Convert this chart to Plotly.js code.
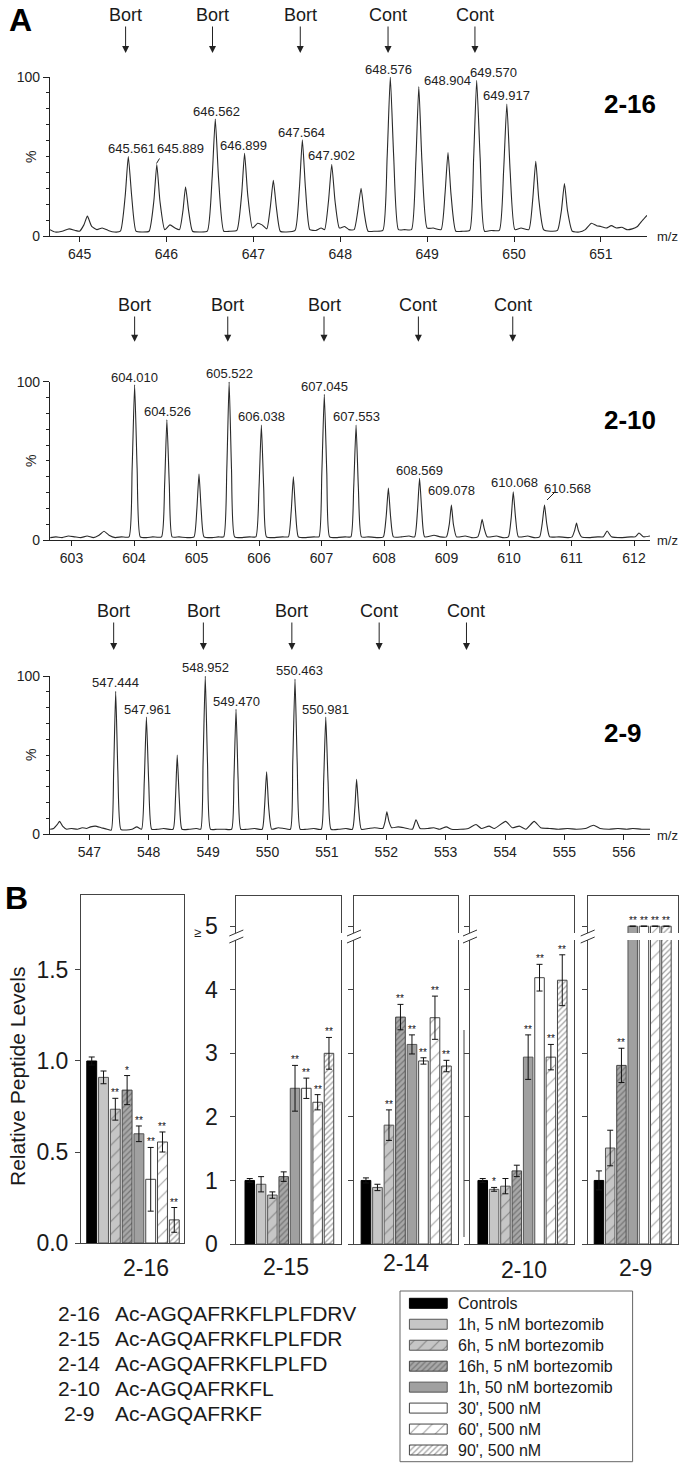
<!DOCTYPE html>
<html><head><meta charset="utf-8">
<script src="https://cdn.plot.ly/plotly-3.0.1.min.js"></script>
<style>html,body{margin:0;padding:0;background:#fff}#chart{width:685px;height:1468px}</style>
</head><body><div id="chart"></div>
<script>
// ================= DATA =================
// Panel A: mass spectra profiles [m/z, relative intensity %]
const s1Profile=[[644.66,4],[644.72,2.5],[644.80,3],[644.88,4.5],[644.95,3.5],[645.00,3],[645.05,7],[645.09,12.5],[645.14,6],[645.20,4],[645.26,5],[645.33,3.5],[645.40,2.5],[645.47,3],[645.525,25],[645.561,50],[645.60,25],[645.65,3],[645.72,2.5],[645.80,3],[645.855,22],[645.889,45],[645.925,22],[645.98,4],[646.04,7],[646.10,5],[646.15,4],[646.19,16],[646.22,31],[646.255,16],[646.30,3],[646.38,2.5],[646.47,3],[646.525,36],[646.562,73.5],[646.60,36],[646.66,3],[646.73,3],[646.81,3.5],[646.865,26],[646.899,52],[646.935,26],[646.99,5],[647.05,8],[647.10,7],[647.155,4.5],[647.195,18],[647.23,35],[647.265,18],[647.31,3],[647.38,2.5],[647.48,3.5],[647.53,30],[647.564,60.5],[647.60,30],[647.65,4],[647.72,3.5],[647.78,5],[647.82,4],[647.865,22],[647.902,45],[647.94,22],[647.99,5],[648.05,6],[648.10,4],[648.16,4],[648.20,15],[648.24,30],[648.275,15],[648.32,3],[648.40,3],[648.49,3.5],[648.54,50],[648.576,100],[648.615,50],[648.67,4],[648.74,4],[648.82,4],[648.87,47],[648.904,94],[648.94,47],[649.00,5],[649.07,5],[649.16,4],[649.205,26],[649.24,52.5],[649.275,26],[649.33,3],[649.41,3],[649.49,3.5],[649.535,49],[649.57,98],[649.61,49],[649.66,3],[649.74,3.5],[649.83,3.5],[649.88,41],[649.917,83],[649.955,41],[650.01,4],[650.08,5],[650.17,4],[650.215,23],[650.25,47],[650.285,23],[650.34,4],[650.42,3],[650.50,3.5],[650.545,16],[650.58,33],[650.615,16],[650.67,3],[650.75,2.5],[650.82,4],[650.89,8],[650.95,6.5],[651.00,6],[651.06,5],[651.12,6.5],[651.18,5],[651.24,5.5],[651.30,4],[651.36,4.5],[651.42,6],[651.48,10],[651.53,13]];
const s2Profile=[[602.66,1.5],[602.75,2],[602.85,1.5],[602.95,2.5],[603.05,2],[603.15,1.5],[603.25,2.5],[603.35,1.5],[603.44,3],[603.52,5.5],[603.6,3],[603.7,1.5],[603.8,2],[603.92,2],[603.97,45],[604.01,98],[604.05,45],[604.1,2],[604.2,1.5],[604.3,2],[604.44,2],[604.49,35],[604.526,76],[604.565,35],[604.61,2],[604.72,2],[604.85,1.5],[604.96,2],[605.005,19],[605.04,41.7],[605.075,19],[605.12,2],[605.25,1.5],[605.35,2],[605.435,2],[605.485,45],[605.522,100],[605.56,45],[605.61,2],[605.73,1.5],[605.85,2],[605.95,2],[606.0,33],[606.038,72.6],[606.075,33],[606.12,2],[606.25,1.5],[606.38,2],[606.47,2],[606.515,18],[606.55,40],[606.585,18],[606.63,2],[606.75,1.5],[606.88,2],[606.96,2],[607.005,42],[607.045,92],[607.085,42],[607.13,2],[607.25,1.5],[607.38,2],[607.47,2],[607.515,33],[607.553,72.6],[607.59,33],[607.64,2],[607.75,2],[607.9,1.5],[607.99,2],[608.035,15],[608.07,32.8],[608.105,15],[608.15,2],[608.28,2],[608.4,2.5],[608.49,2],[608.535,18],[608.569,39],[608.605,18],[608.65,2],[608.8,3],[608.9,2],[609.0,2],[609.045,10],[609.078,22],[609.11,10],[609.16,2],[609.3,2.5],[609.4,1.5],[609.5,2],[609.54,7],[609.57,13],[609.605,7],[609.65,2],[609.8,2.5],[609.9,1.5],[609.99,2],[610.035,14],[610.068,30.5],[610.105,14],[610.15,2],[610.3,2.5],[610.4,1.5],[610.49,2],[610.53,10],[610.568,22],[610.605,10],[610.65,2],[610.8,2],[610.95,1.5],[611.01,2],[611.05,6],[611.08,10.7],[611.11,6],[611.16,2],[611.3,1.5],[611.42,2],[611.51,2],[611.57,5.7],[611.64,2],[611.8,1.5],[611.95,2],[612.02,2],[612.08,4.4],[612.15,2],[612.256,2.5]];
const s3Profile=[[546.34,3],[546.4,3.5],[546.46,6],[546.5,8],[546.55,5],[546.62,3],[546.7,3.5],[546.8,3],[546.88,4],[546.95,3.5],[547.02,4.5],[547.1,5],[547.2,4],[547.3,3],[547.37,2.5],[547.41,40],[547.444,90.3],[547.48,40],[547.53,3],[547.62,2.5],[547.72,3],[547.8,4.5],[547.88,3],[547.925,33],[547.961,74],[548.0,33],[548.05,3],[548.15,3],[548.25,3.5],[548.41,3],[548.45,22],[548.48,50],[548.515,22],[548.56,3],[548.68,3],[548.8,3.5],[548.875,3],[548.915,45],[548.952,100],[548.99,45],[549.04,3],[549.15,3],[549.28,3],[549.395,3],[549.435,35],[549.47,79],[549.505,35],[549.55,3],[549.65,3],[549.78,3.5],[549.91,3],[549.95,17],[549.985,39.4],[550.02,17],[550.07,3],[550.18,4],[550.28,3.5],[550.385,3],[550.425,45],[550.463,98],[550.5,45],[550.55,3],[550.65,3],[550.78,3.5],[550.905,3],[550.945,33],[550.981,74],[551.02,33],[551.07,3],[551.2,3],[551.32,3.5],[551.43,3],[551.47,16],[551.5,34.6],[551.535,16],[551.58,3],[551.7,3.5],[551.8,4],[551.94,3.5],[551.98,8],[552.01,14],[552.045,8],[552.09,4],[552.2,4.5],[552.3,4],[552.44,3],[552.5,9],[552.57,3.5],[552.7,3.5],[552.8,4],[552.9,3],[553.01,4.5],[553.1,3],[553.25,3],[553.38,3.5],[553.51,6],[553.6,3.5],[553.73,5],[553.82,3.5],[554.01,8],[554.12,4],[554.24,5],[554.35,3],[554.49,8],[554.6,4],[554.75,3.5],[554.9,3],[555.05,3.5],[555.2,3],[555.35,3.5],[555.49,5.5],[555.6,3.5],[555.75,3],[555.9,3.5],[556.05,3],[556.15,3.5],[556.3,3],[556.44,3]];

const spectrumNames=['2-16','2-10','2-9'];
const s1PeakLabels=['645.561','645.889','646.562','646.899','647.564','647.902','648.576','648.904','649.570','649.917'];
const s2PeakLabels=['604.010','604.526','605.522','606.038','607.045','607.553','608.569','609.078','610.068','610.568'];
const s3PeakLabels=['547.444','547.961','548.952','549.470','550.463','550.981'];
const arrowLabels=['Bort','Bort','Bort','Cont','Cont'];
const s1ArrowMz=[645.53,646.53,647.54,648.55,649.55];
const s2ArrowMz=[604.01,605.50,607.04,608.55,610.06];
const s3ArrowMz=[547.41,548.92,550.41,551.88,553.35];

// Panel B: relative peptide levels
const treatments=['Controls','1h, 5 nM bortezomib','6h, 5 nM bortezomib','16h, 5 nM bortezomib','1h, 50 nM bortezomib',"30', 500 nM","60', 500 nM","90', 500 nM"];
const panels=['2-16','2-15','2-14','2-10','2-9'];
const lv216=[1.00,0.91,0.735,0.84,0.60,0.35,0.555,0.127];
const er216=[0.022,0.035,0.06,0.08,0.043,0.175,0.055,0.068];
const st216=['','','**','*','**','**','**','**'];
const lv215=[1.00,0.94,0.77,1.06,2.45,2.45,2.23,3.00];
const er215=[0.03,0.12,0.05,0.075,0.36,0.16,0.12,0.25];
const st215=['','','','','**','**','**','**'];
const lv214=[1.00,0.89,1.87,3.57,3.14,2.88,3.56,2.80];
const er214=[0.04,0.05,0.24,0.20,0.15,0.05,0.34,0.09];
const st214=['','','**','**','**','**','**','**'];
const lv210=[1.00,0.86,0.91,1.15,2.94,4.19,2.94,4.15];
const er210=[0.03,0.03,0.12,0.09,0.35,0.21,0.20,0.40];
const st210=['','*','','','**','**','**','**'];
const lv29=[1.00,null,1.51,2.81,5,5,5,5];   // 5 = "≥5"
const er29=[0.15,null,0.28,0.27,0,0,0,0];
const st29=['','','','**','**','**','**','**'];

const peptideIds=['2-16','2-15','2-14','2-10','2-9'];
const peptideSeqs=['Ac-AGQAFRKFLPLFDRV','Ac-AGQAFRKFLPLFDR','Ac-AGQAFRKFLPLFD','Ac-AGQAFRKFL','Ac-AGQAFRKF'];

// ================= STYLE / LAYOUT =================
const W=685,H=1468;
const px=x=>x/W, py=y=>1-y/H;
const FONT='Liberation Sans, Arial, Helvetica, sans-serif';
const INK='#1a1a1a';

const barStyles=[
 {c:'#000000',l:'#000000',s:'',sz:8,so:0.2},
 {c:'#c6c6c6',l:'#555555',s:'',sz:8,so:0.2},
 {c:'#c6c6c6',l:'#555555',s:'/',sz:9,so:0.12},
 {c:'#a8a8a8',l:'#444444',s:'/',sz:4,so:0.32},
 {c:'#a0a0a0',l:'#555555',s:'',sz:8,so:0.2},
 {c:'#ffffff',l:'#444444',s:'',sz:8,so:0.2},
 {c:'#ffffff',l:'#444444',s:'/',sz:9,so:0.12},
 {c:'#ffffff',l:'#444444',s:'/',sz:4,so:0.32}
];
function markerFor(idx){
 const st=idx.map(i=>barStyles[i]);
 return {color:st.map(s=>s.c),line:{color:st.map(s=>s.l),width:1},
   pattern:{shape:st.map(s=>s.s),size:st.map(s=>s.sz),solidity:st.map(s=>s.so),fgcolor:'#2a2a2a',bgcolor:st.map(s=>s.c),fillmode:'overlay'}};
}

const data=[];
const annotations=[];
const shapes=[];
function ann(o){ annotations.push(Object.assign({showarrow:false,xanchor:'center',yanchor:'middle'},o)); }

// ---- spectra ----
const specDefs=[
 {p:s1Profile,xa:'x',ya:'y',labels:s1PeakLabels,pos:[[131.5,149],[180.5,148],[216,111.7],[243.5,145.7],[301.3,132.7],[331.7,155.7],[388.8,69],[447.2,81],[493.5,72.3],[506.8,96]],arrows:s1ArrowMz,head:53,text:15,zero:236,name:[602,104]},
 {p:s2Profile,xa:'x2',ya:'y2',labels:s2PeakLabels,pos:[[134.6,377.3],[167.8,411.7],[229.1,373.3],[261.4,416.7],[324.3,386.7],[356.5,416.7],[419.6,470.7],[451.8,490.7],[514,482.3],[567,488.3]],arrows:s2ArrowMz,head:341.7,text:305,zero:540,name:[602,420]},
 {p:s3Profile,xa:'x3',ya:'y3',labels:s3PeakLabels,pos:[[115.3,682.7],[147,709.3],[205.3,667.5],[236,701],[299.5,670],[325.9,709.3]],arrows:s3ArrowMz,head:650,text:611,zero:834,name:[602,733]}
];
specDefs.forEach((d,k)=>{
 data.push({type:'scatter',mode:'lines',x:d.p.map(v=>v[0]),y:d.p.map(v=>v[1]),xaxis:d.xa,yaxis:d.ya,
   line:{color:'#2a2a2a',width:1.1,shape:'spline',smoothing:0.5},hoverinfo:'skip',showlegend:false});
 d.labels.forEach((t,i)=>ann({xref:'paper',yref:'paper',x:px(d.pos[i][0]),y:py(d.pos[i][1]),text:t,font:{size:13,color:'#222'}}));
 d.arrows.forEach((m,i)=>annotations.push({xref:d.xa,yref:'paper',x:m,y:py(d.head),text:arrowLabels[i],showarrow:true,
   arrowhead:2,arrowsize:1.4,arrowwidth:1,arrowcolor:'#222',ax:0,ay:d.text-d.head,standoff:0,font:{size:18,color:INK}}));
 ann({xref:'paper',yref:'paper',x:px(d.name[0]),y:py(d.name[1]),text:'<b>'+spectrumNames[k]+'</b>',xanchor:'left',font:{size:26,color:'#000'}});
 ann({xref:'paper',yref:'paper',x:px(31),y:py(d.zero-79),text:'%',textangle:-90,font:{size:14,color:'#222'}});
 ann({xref:'paper',yref:'paper',x:px(667),y:py(d.zero+1),text:'m/z',font:{size:13,color:'#222'}});
});
// leader lines
shapes.push({type:'line',xref:'paper',yref:'paper',x0:px(156.5),y0:py(163.5),x1:px(159.5),y1:py(158.5),line:{color:'#222',width:1}});
shapes.push({type:'line',xref:'paper',yref:'paper',x0:px(547),y0:py(500),x1:px(554),y1:py(493),line:{color:'#222',width:1}});

// ---- panel B bars ----
const panelDefs=[
 {lv:lv216,er:er216,st:st216,xa:'x4',ya:'y4'},
 {lv:lv215,er:er215,st:st215,xa:'x5',ya:'y5'},
 {lv:lv214,er:er214,st:st214,xa:'x6',ya:'y6'},
 {lv:lv210,er:er210,st:st210,xa:'x7',ya:'y7'},
 {lv:lv29,er:er29,st:st29,xa:'x8',ya:'y8'}
];
panelDefs.forEach(d=>{
 const idx=d.lv.map((v,i)=>v===null?-1:i).filter(i=>i>=0);
 const xs=idx.map((_,j)=>j);
 data.push({type:'bar',x:xs,y:idx.map(i=>d.lv[i]),xaxis:d.xa,yaxis:d.ya,width:0.84,marker:markerFor(idx),
   error_y:{type:'data',array:idx.map(i=>d.er[i]),visible:true,color:'#111',thickness:1,width:3},
   hoverinfo:'skip',showlegend:false});
 idx.forEach((i,j)=>{ if(d.st[i]) annotations.push({xref:d.xa,yref:d.ya,x:j,y:d.lv[i]+d.er[i],text:d.st[i],showarrow:false,
   xanchor:'center',yanchor:'bottom',yshift:-2,font:{size:10,color:'#111'}}); });
});

// legend as a small bar subplot
data.push({type:'bar',orientation:'h',x:treatments.map(()=>1),y:treatments.map((_,i)=>i),base:0,width:0.477,
  xaxis:'x9',yaxis:'y9',marker:markerFor(treatments.map((_,i)=>i)),hoverinfo:'skip',showlegend:false});
treatments.forEach((t,i)=>ann({xref:'x9',yref:'y9',x:1.22,y:i,text:t,xanchor:'left',font:{size:16,color:INK}}));
shapes.push({type:'rect',xref:'paper',yref:'paper',x0:px(400),x1:px(632.6),y0:py(1291),y1:py(1461.7),line:{color:'#666',width:1},fillcolor:'rgba(0,0,0,0)'});

// axis-break bands and marks (boxes 2-5)
const boxes=[[236.3,341.3],[354,458.3],[470,574.3],[587.7,677.7]];
boxes.forEach(b=>{
 shapes.push({type:'rect',xref:'paper',yref:'paper',layer:'above',x0:px(b[0]-2),x1:px(b[1]+2),y0:py(940),y1:py(933),line:{width:0},fillcolor:'#ffffff'});
});
boxes.forEach(b=>{
 const a=b[0];
 shapes.push({type:'line',xref:'paper',yref:'paper',x0:px(a-7),y0:py(936),x1:px(a+7),y1:py(930),line:{color:'#333',width:1}});
 shapes.push({type:'line',xref:'paper',yref:'paper',x0:px(a-7),y0:py(943),x1:px(a+7),y1:py(937),line:{color:'#333',width:1}});
});
// stray vertical line seen in the original figure
shapes.push({type:'line',xref:'paper',yref:'paper',x0:px(464),x1:px(464),y0:py(1030),y1:py(1237),line:{color:'#444',width:1}});

// panel B texts
ann({xref:'paper',yref:'paper',x:px(197),y:py(932),text:'≥',font:{size:13,color:INK}});
ann({xref:'paper',yref:'paper',x:px(17),y:py(1077),text:'Relative Peptide Levels',textangle:-90,font:{size:21,color:INK}});
const panelLabelPos=[[146,1268],[286,1267],[406.5,1263],[523.5,1270],[635.5,1268]];
panels.forEach((p,i)=>ann({xref:'paper',yref:'paper',x:px(panelLabelPos[i][0]),y:py(panelLabelPos[i][1]),text:p,font:{size:23,color:INK}}));
peptideIds.forEach((p,i)=>{
 ann({xref:'paper',yref:'paper',x:px(78.5),y:py(1313.3+25*i),text:p,font:{size:21,color:INK}});
 ann({xref:'paper',yref:'paper',x:px(113),y:py(1313.3+25*i),text:peptideSeqs[i],xanchor:'left',font:{size:21,color:INK}});
});
ann({xref:'paper',yref:'paper',x:px(20),y:py(20),text:'<b>A</b>',font:{size:32,color:'#000'}});
ann({xref:'paper',yref:'paper',x:px(16.5),y:py(898.5),text:'<b>B</b>',font:{size:32,color:'#000'}});

// ---- axes ----
const specX=(dom,range,anchor)=>({domain:dom,range,anchor,showline:true,linecolor:'#222',linewidth:1.2,ticks:'outside',ticklen:5,tickwidth:1,tickcolor:'#222',
  tick0:0,dtick:1,showgrid:false,zeroline:false,tickfont:{size:14,color:'#222'},fixedrange:true});
const specY=(dom,anchor)=>({domain:dom,range:[0,100],anchor,showline:true,linecolor:'#222',linewidth:1.2,ticks:'outside',ticklen:6,tickcolor:'#222',
  tick0:0,dtick:100,minor:{dtick:10,tick0:0,ticks:'outside',ticklen:3,tickcolor:'#222',showgrid:false},showgrid:false,zeroline:false,
  tickfont:{size:14,color:'#222'},fixedrange:true});
const boxX=(dom,range,anchor)=>({domain:dom,range,anchor,showline:true,mirror:true,linecolor:'#444',linewidth:1,ticks:'',showticklabels:false,
  showgrid:false,zeroline:false,fixedrange:true});
const boxY=(dom,range,anchor,vals,text,show,stand)=>({domain:dom,range,anchor,showline:true,mirror:true,linecolor:'#444',linewidth:1,
  ticks:'outside',ticklen:5,tickcolor:'#444',tickmode:'array',tickvals:vals,ticktext:text,showticklabels:show,ticklabelstandoff:stand,
  tickfont:{size:23,color:INK},showgrid:false,zeroline:false,fixedrange:true});
const yB=[py(1244),py(895.7)];
const v5=[0,1,2,3,4,5], t5=['0','1','2','3','4','5'];

const layout={
 width:W,height:H,margin:{l:0,r:0,t:0,b:0},paper_bgcolor:'#ffffff',plot_bgcolor:'rgba(0,0,0,0)',showlegend:false,
 font:{family:FONT,color:INK},barmode:'overlay',
 xaxis:specX([px(50),px(647)],[644.66,651.53],'y'),
 yaxis:specY([py(236),py(77)],'x'),
 xaxis2:specX([px(50),px(650)],[602.656,612.256],'y2'),
 yaxis2:specY([py(540),py(381.7)],'x2'),
 xaxis3:specX([px(50),px(650)],[546.338,556.44],'y3'),
 yaxis3:specY([py(834),py(676)],'x3'),
 xaxis4:boxX([px(81),px(184.3)],[-0.91,7.85],'y4'),
 yaxis4:boxY([py(1243),py(895)],[0,1.912],'x4',[0,0.5,1,1.5],['0.0','0.5','1.0','1.5'],true,2),
 xaxis5:boxX([px(236.3),px(341.3)],[-1.19,8.09],'y5'),
 yaxis5:boxY(yB,[0,5.48],'x5',v5,t5,true,8),
 xaxis6:boxX([px(354),px(458.3)],[-1.04,8.03],'y6'),
 yaxis6:boxY(yB,[0,5.48],'x6',v5,t5,false,0),
 xaxis7:boxX([px(470),px(574.3)],[-1.12,8.06],'y7'),
 yaxis7:boxY(yB,[0,5.48],'x7',v5,t5,false,0),
 xaxis8:boxX([px(587.7),px(677.7)],[-1.0,7.0],'y8'),
 yaxis8:boxY(yB,[0,5.48],'x8',v5,t5,false,0),
 xaxis9:{domain:[px(400),px(632.6)],range:[-0.249,5.905],anchor:'y9',visible:false,fixedrange:true},
 yaxis9:{domain:[py(1461.7),py(1291)],range:[7.558,-0.587],anchor:'x9',visible:false,fixedrange:true},
 annotations,shapes
};
Plotly.newPlot('chart',data,layout,{displayModeBar:false,staticPlot:true});
</script></body></html>
